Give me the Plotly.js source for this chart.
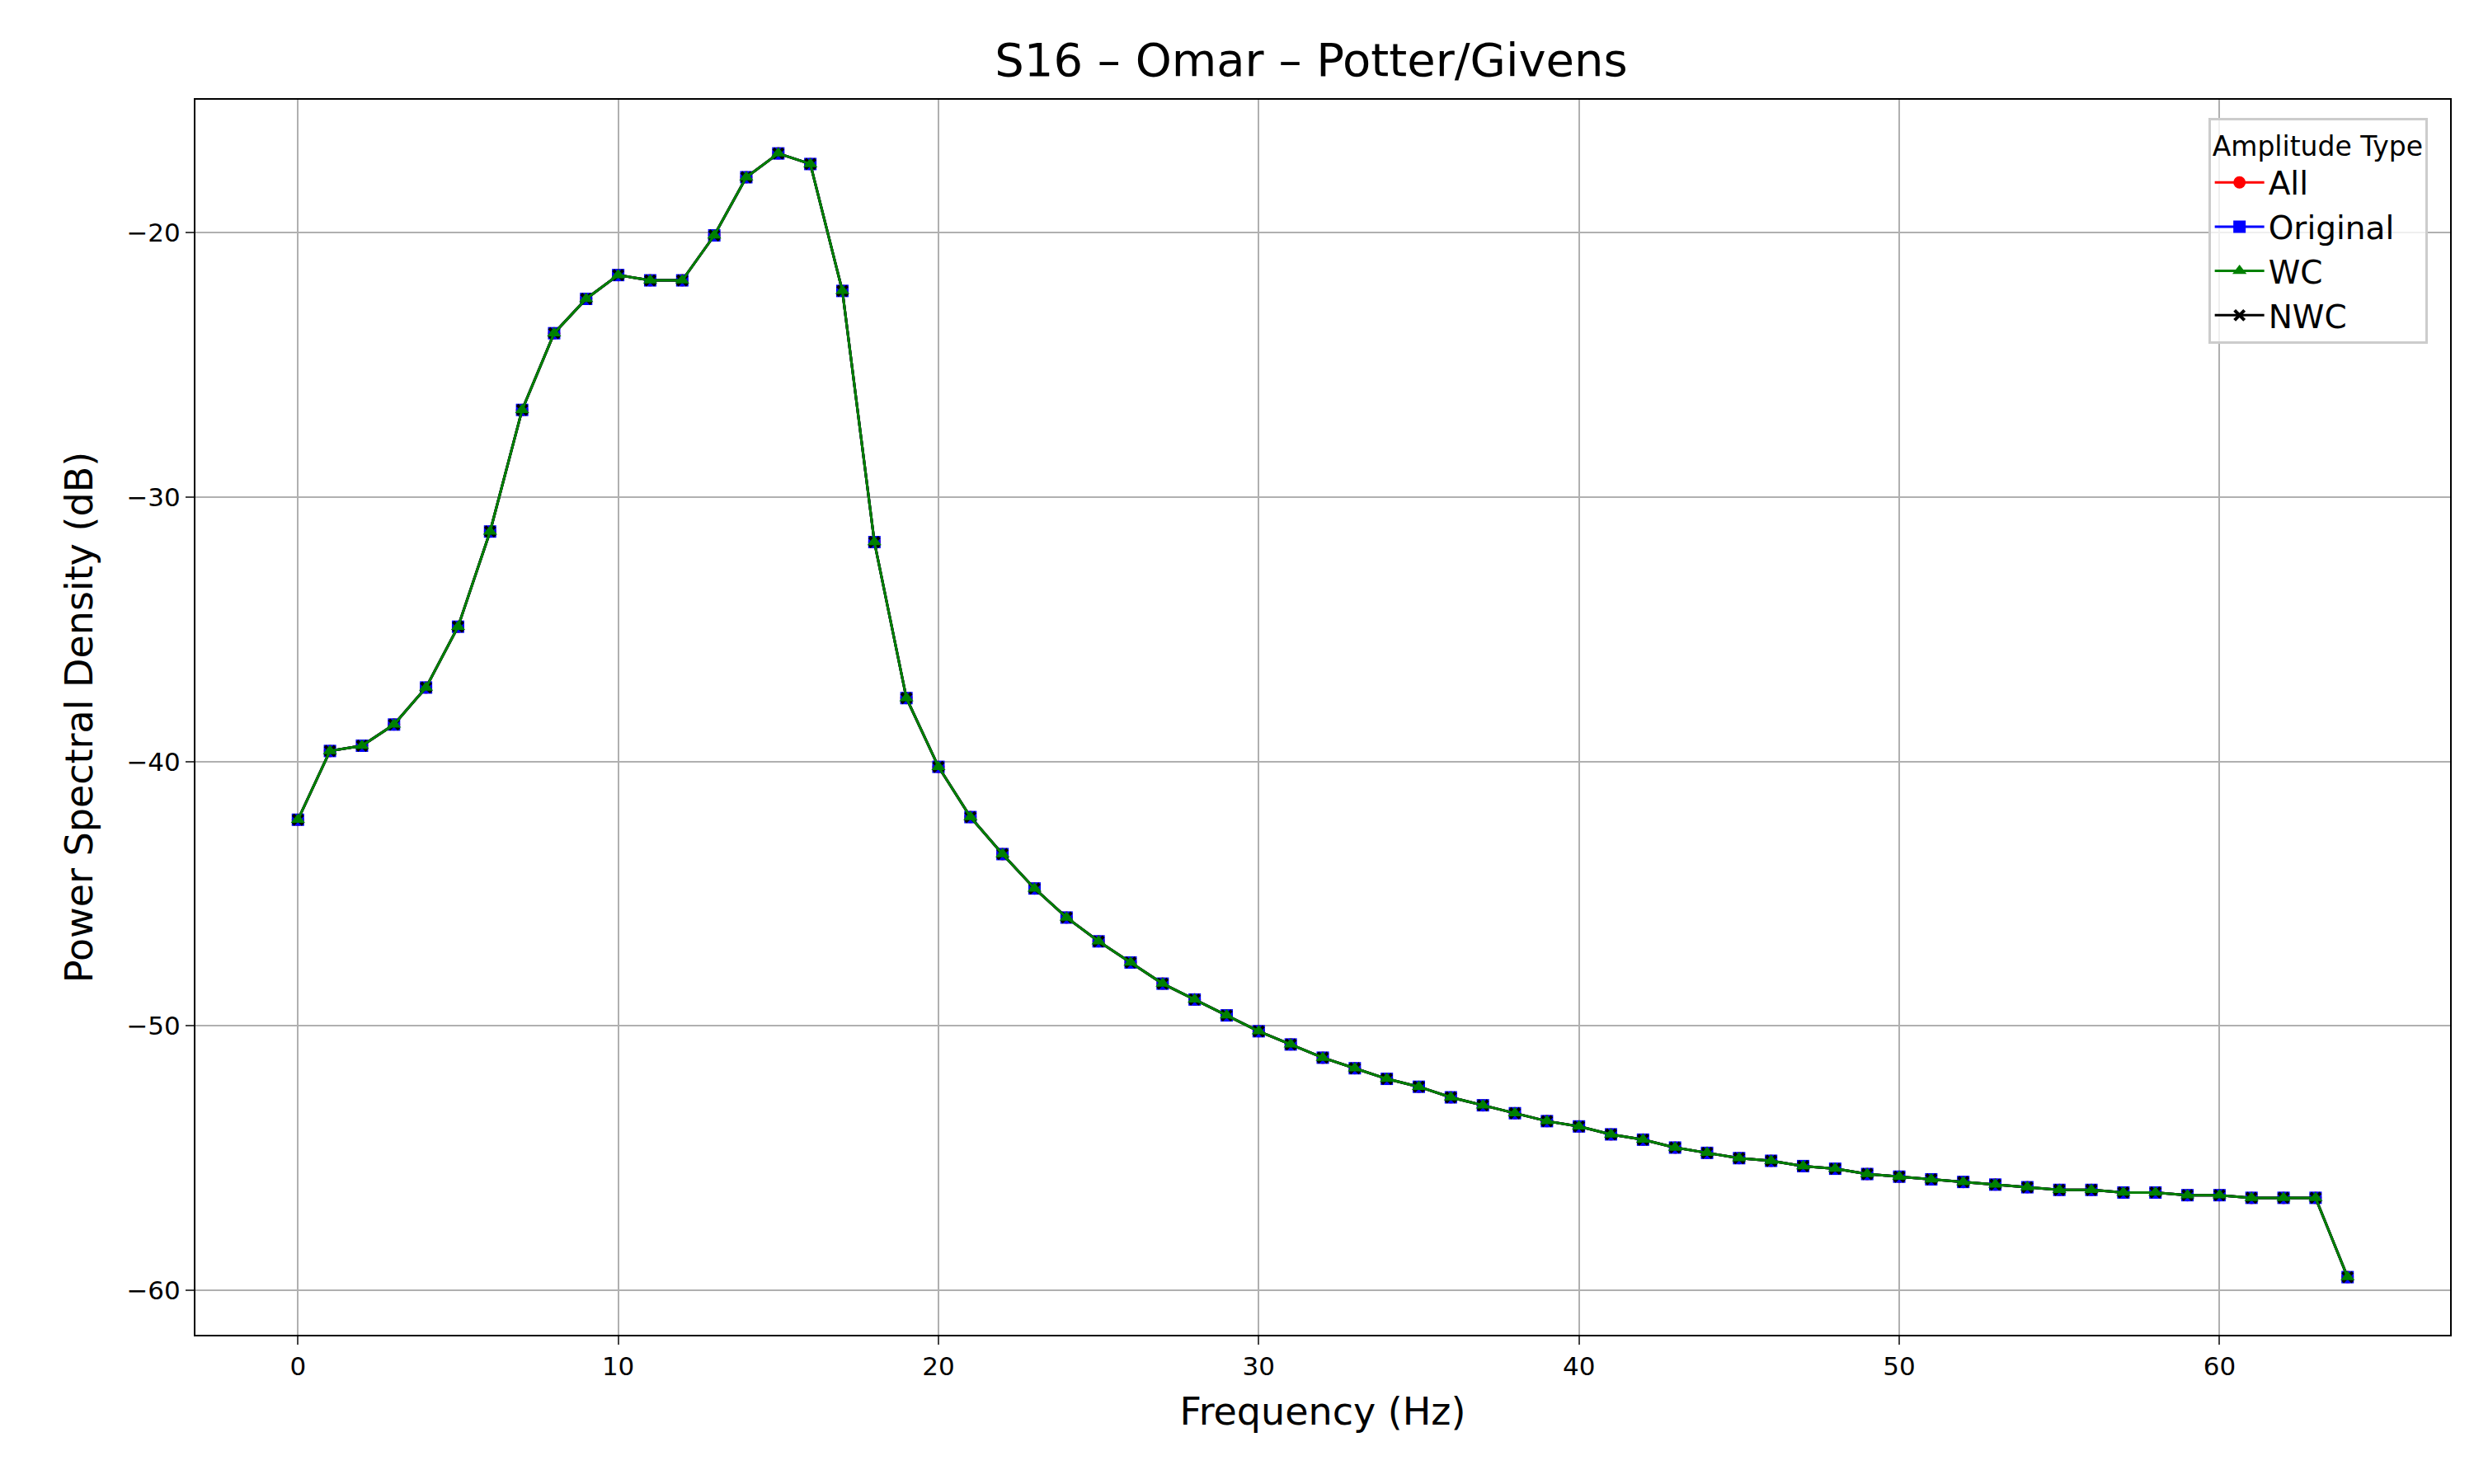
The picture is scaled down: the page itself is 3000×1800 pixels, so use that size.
<!DOCTYPE html>
<html><head><meta charset="utf-8">
<script src="https://cdn.plot.ly/plotly-3.0.1.min.js"></script>
<style>body{margin:0;background:#fff}</style></head>
<body><div id="chart" style="width:3000px;height:1800px"></div>
<script>
const freq = [];
for (let i = 0; i <= 64; i++) freq.push(i);
const wc = [-42.2,-39.6,-39.4,-38.6,-37.2,-34.9,-31.3,-26.7,-23.8,-22.5,-21.6,-21.8,-21.8,-20.1,-17.9,-17.0,-17.4,-22.2,-31.7,-37.6,
-40.2,-42.1,-43.5,-44.8,-45.9,-46.8,-47.6,-48.4,-49.0,-49.6,-50.2,-50.7,-51.2,-51.6,-52.0,-52.3,-52.7,-53.0,-53.3,-53.6,
-53.8,-54.1,-54.3,-54.6,-54.8,-55.0,-55.1,-55.3,-55.4,-55.6,-55.7,-55.8,-55.9,-56.0,-56.1,-56.2,-56.2,-56.3,-56.3,-56.4,
-56.4,-56.5,-56.5,-56.5,-59.5];
const allVals = wc.slice(), origVals = wc.slice(), nwcVals = wc.slice();
const seriesNames = ['All','Original','NWC','WC'];
const ranks = [1,2,4,3];
const colors = ['#ff0000','#0000ff','#000000','#008000'];
const symbols = ['circle','square','x-thin','triangle-up'];
const data = [allVals, origVals, nwcVals, wc];
const traces = data.map((y,i)=>({
  x: freq, y: y, name: seriesNames[i], legendrank: ranks[i], type:'scatter', mode:'lines+markers',
  line:{color:colors[i], width:3},
  marker:{symbol:symbols[i], size:symbols[i]==='x-thin'?12:15, color:colors[i], line:{color:colors[i], width:symbols[i]==='x-thin'?4:0}}
}));
const F = 'DejaVu Sans, sans-serif';
Plotly.newPlot('chart', traces, {
  width:3000, height:1800, paper_bgcolor:'#fff', plot_bgcolor:'#fff',
  margin:{l:237, r:29, t:121, b:181},
  title:{text:'S16 – Omar – Potter/Givens', font:{family:F, size:56, color:'#000'}, x:0.53, xanchor:'center', y:0.96, yanchor:'middle'},
  xaxis:{range:[-3.2,67.2], tickvals:[0,10,20,30,40,50,60], showgrid:true, gridcolor:'#b0b0b0', gridwidth:2,
    zeroline:false, showline:true, linecolor:'#000', linewidth:2, mirror:true, ticks:'outside', ticklen:10, tickwidth:2,
    tickfont:{family:F, size:31, color:'#000'}, title:{text:'Frequency (Hz)', font:{family:F, size:46, color:'#000'}, standoff:22}},
  yaxis:{range:[-61.68,-14.97], tickvals:[-60,-50,-40,-30,-20], ticktext:['−60','−50','−40','−30','−20'], showgrid:true, gridcolor:'#b0b0b0', gridwidth:2,
    zeroline:false, showline:true, linecolor:'#000', linewidth:2, mirror:true, ticks:'outside', ticklen:10, tickwidth:2,
    tickfont:{family:F, size:31, color:'#000'}, title:{text:'Power Spectral Density (dB)', font:{family:F, size:46, color:'#000'}, standoff:26}},
  legend:{x:0.99, y:0.985, xanchor:'right', yanchor:'top', bgcolor:'rgba(255,255,255,0.8)', bordercolor:'#cccccc', borderwidth:3,
    font:{family:F, size:39, color:'#000'}, title:{text:'Amplitude Type', font:{family:F, size:33, color:'#000'}}, itemwidth:60, tracegroupgap:4}
}, {displayModeBar:false});
</script></body></html>
